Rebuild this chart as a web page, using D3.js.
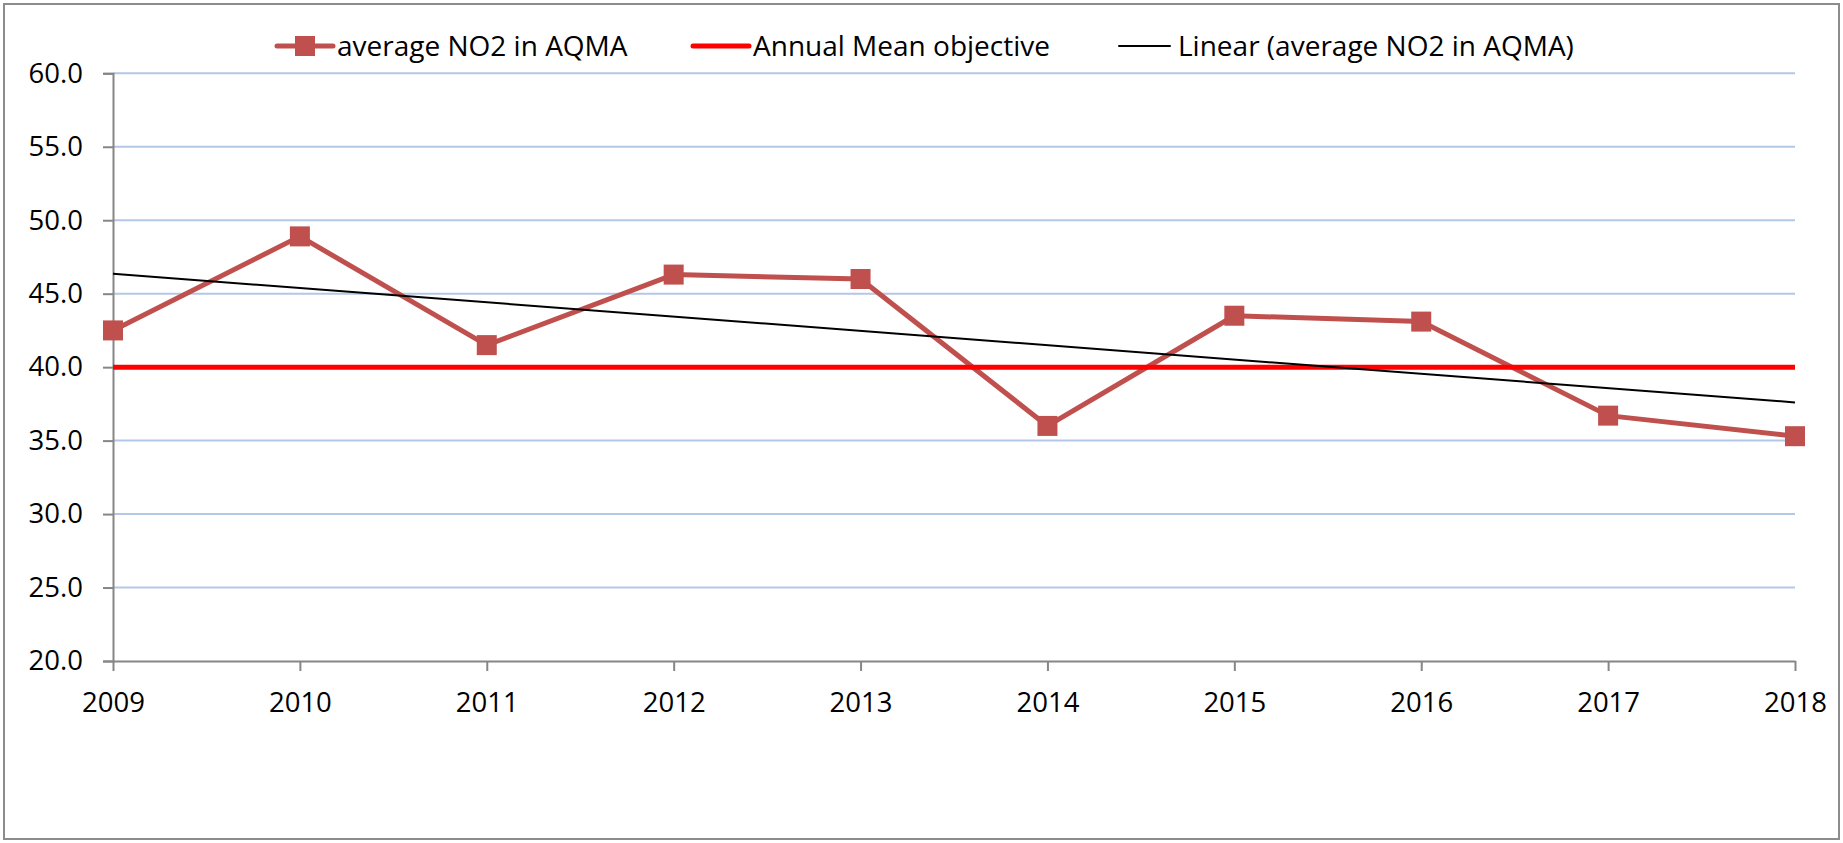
<!DOCTYPE html>
<html>
<head>
<meta charset="utf-8">
<script src="https://cdn.jsdelivr.net/npm/d3@7"></script>
<style>
  html, body { margin: 0; padding: 0; background: #fff; }
  svg { display: block; }
  text { font-family: "Open Sans", sans-serif; fill: #000; }
</style>
</head>
<body>
<svg id="chart" width="1843" height="843"></svg>
<script>
// ---- data ----
const years = [2009, 2010, 2011, 2012, 2013, 2014, 2015, 2016, 2017, 2018];
const avgNO2 = [42.5, 48.9, 41.5, 46.3, 46.0, 36.0, 43.5, 43.1, 36.7, 35.3];
const objective = 40;
const yTicks = [20, 25, 30, 35, 40, 45, 50, 55, 60];
const seriesNames = ["average NO2 in AQMA", "Annual Mean objective", "Linear (average NO2 in AQMA)"];

// ---- layout ----
const W = 1843, H = 843;
const plot = { left: 113, right: 1795, top: 73.3, bottom: 661 };
const svg = d3.select("#chart");

svg.append("rect")
  .attr("x", 4).attr("y", 4).attr("width", W - 8).attr("height", H - 8)
  .attr("fill", "#fff").attr("stroke", "#8c8c8c").attr("stroke-width", 2);

const x = d3.scalePoint().domain(years).range([plot.left, plot.right]);
const y = d3.scaleLinear().domain([20, 60]).range([plot.bottom, plot.top]);

// gridlines
svg.append("g").selectAll("line").data(yTicks.filter(t => t > 20)).join("line")
  .attr("x1", plot.left).attr("x2", plot.right)
  .attr("y1", d => y(d)).attr("y2", d => y(d))
  .attr("stroke", "#b3c7e6").attr("stroke-width", 2);

// y axis
const yAxis = svg.append("g").attr("transform", `translate(${plot.left},0)`)
  .call(d3.axisLeft(y).tickValues(yTicks).tickFormat(d3.format(".1f")).tickSize(10).tickPadding(20));
yAxis.select(".domain").attr("stroke", "#868686").attr("stroke-width", 2);
yAxis.selectAll(".tick line").attr("stroke", "#868686").attr("stroke-width", 2);
yAxis.selectAll("text").style("font-family", '"Open Sans", sans-serif').style("font-size", "27.5px").attr("fill", "#000");

// x axis
const xAxis = svg.append("g").attr("transform", `translate(0,${plot.bottom})`)
  .call(d3.axisBottom(x).tickSize(10).tickPadding(21).tickSizeOuter(0));
xAxis.select(".domain").attr("stroke", "#868686").attr("stroke-width", 2);
xAxis.selectAll(".tick line").attr("stroke", "#868686").attr("stroke-width", 2);
xAxis.selectAll("text").style("font-family", '"Open Sans", sans-serif').style("font-size", "27.5px").attr("fill", "#000");

// series line
const pts = years.map((yr, i) => [yr, avgNO2[i]]);
const line = d3.line().x(d => x(d[0])).y(d => y(d[1]));
svg.append("path").datum(pts).attr("d", line)
  .attr("fill", "none").attr("stroke", "#C0504D").attr("stroke-width", 5).attr("stroke-linejoin", "round");

// markers
svg.append("g").selectAll("rect").data(pts).join("rect")
  .attr("x", d => x(d[0]) - 10).attr("y", d => y(d[1]) - 10)
  .attr("width", 20).attr("height", 20).attr("fill", "#C0504D");

// objective line
svg.append("line")
  .attr("x1", x(years[0])).attr("x2", x(years[years.length - 1]))
  .attr("y1", y(objective)).attr("y2", y(objective))
  .attr("stroke", "#FF0000").attr("stroke-width", 5);

// linear trend (least squares)
const n = years.length;
const idx = d3.range(n);
const mx = d3.mean(idx), my = d3.mean(avgNO2);
const slope = d3.sum(idx, i => (i - mx) * (avgNO2[i] - my)) / d3.sum(idx, i => (i - mx) ** 2);
const icpt = my - slope * mx;
const trend = [[years[0], icpt], [years[n - 1], icpt + slope * (n - 1)]];
svg.append("path").datum(trend).attr("d", line)
  .attr("fill", "none").attr("stroke", "#000").attr("stroke-width", 2);

// legend
const lg = svg.append("g");
const ly = 46;
const legendItems = [
  { x1: 277, x2: 333, tx: 337, color: "#C0504D", w: 5, marker: true },
  { x1: 693, x2: 749, tx: 753, color: "#FF0000", w: 5, marker: false },
  { x1: 1119, x2: 1170, tx: 1178, color: "#000", w: 2, marker: false }
];
legendItems.forEach((it, i) => {
  lg.append("line").attr("x1", it.x1).attr("x2", it.x2).attr("y1", ly).attr("y2", ly)
    .attr("stroke", it.color).attr("stroke-width", it.w).attr("stroke-linecap", "round");
  if (it.marker) {
    lg.append("rect").attr("x", (it.x1 + it.x2) / 2 - 10).attr("y", ly - 10)
      .attr("width", 20).attr("height", 20).attr("fill", it.color);
  }
  lg.append("text").attr("x", it.tx).attr("y", ly + 10)
    .style("font-size", "28px").text(seriesNames[i]);
});
</script>
</body>
</html>
